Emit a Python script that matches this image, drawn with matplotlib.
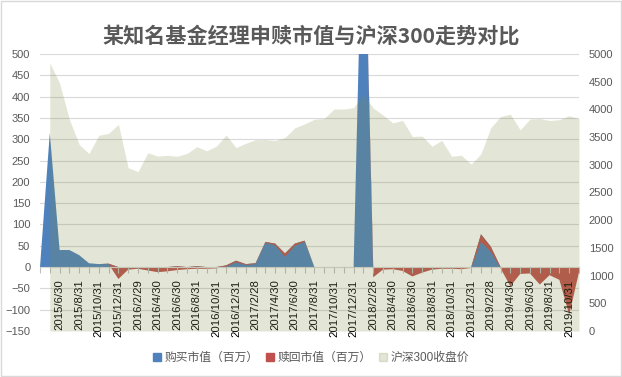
import numpy as np
import pandas as pd
import matplotlib
matplotlib.use('Agg')
import matplotlib.pyplot as plt
from matplotlib.patches import Patch, Rectangle

plt.rcParams['font.family'] = ['Liberation Sans', 'Noto Sans CJK SC']

# 月末日期 (第一行为空)
dates = [''] + [f'{d.year}/{d.month}/{d.day}'
                 for d in pd.date_range('2015-05-31', '2019-11-30', freq='ME')]

# 购买市值（百万）
buy = np.array([0, 315, 40, 40, 28, 9, 7, 8, 0, 0,
                0, 0, 0, 0, 2, 0, 2, 0, 0, 4,
                15, 7, 9, 59, 55, 32, 55, 62, 0, 0,
                0, 0, 0, 950, 0, 0, 0, 0, 0, 0,
                0, 0, 0, 0, 0, 77, 48, 0, 0, 0,
                0, 0, 0, 0, 0, 0], dtype=float)

# 赎回市值（百万）
redeem = np.array([0, 0, 0, 0, 0, 0, 0, -1, -28, -6,
                   -4, -8, -12, -10, -9, -5, -6, -4, -3, -3,
                   -4, -2, -2, -2, -4, -8, -5, -3, 0, -1,
                   -2, -1, 0, 0, -24, -6, -5, -9, -22, -13,
                   -6, -4, -4, -5, -2, -18, -12, -3, -45, -16,
                   -15, -41, -19, -30, -112, -12], dtype=float)

# 沪深300收盘价
csi300 = np.array([np.nan, 4841, 4473, 3817, 3367, 3203, 3534, 3566, 3731, 2946,
                   2877, 3218, 3157, 3170, 3154, 3204, 3328, 3253, 3336, 3538,
                   3310, 3388, 3453, 3456, 3440, 3493, 3667, 3738, 3822, 3837,
                   4007, 4006, 4031, 4276, 4024, 3899, 3757, 3802, 3511, 3518,
                   3335, 3439, 3154, 3173, 3011, 3202, 3669, 3872, 3913, 3630,
                   3826, 3835, 3800, 3815, 3887, 3829])

x = np.arange(len(dates))

fig = plt.figure(figsize=(6.22, 3.77), dpi=100)
ax = fig.add_axes([40 / 622, 46 / 377, 539 / 622, 277 / 377])

# 堆积面积图: 赎回叠在购买之上
ax.fill_between(x, 0, buy, color='#4F81BD', lw=0, zorder=2)
ax.fill_between(x, buy, buy + redeem, color='#C0504D', lw=0, zorder=3)

ax.set_xlim(0, len(dates) - 1)
ax.set_ylim(-150, 500)
ax.set_yticks(range(-150, 501, 50))
ax.grid(axis='y', color='#D9D9D9', lw=0.8)
ax.set_axisbelow(True)
ax.xaxis.set_zorder(5)  # 日期标签画在面积之上
for s in ['top', 'right', 'left']:
    ax.spines[s].set_visible(False)
ax.spines['bottom'].set_position(('data', 0))
ax.spines['bottom'].set_color('#D9D9D9')
ax.spines['bottom'].set_zorder(4)

ax.set_xticks(x)
ax.set_xticklabels([d if i % 2 == 0 else '' for i, d in enumerate(dates)],
                   rotation=90, fontsize=8.2, color='black')
ax.tick_params(axis='x', length=4, color='#BFBFBF', pad=5)
ax.tick_params(axis='y', length=0, labelsize=8, labelcolor='#595959', pad=7)

# 沪深300 (次坐标轴)
ax2 = ax.twinx()
ax2.fill_between(x, 0, csi300, color='#808D45', alpha=0.22, lw=0)
ax2.set_ylim(0, 5000)
ax2.set_yticks(range(0, 5001, 500))
for s in ax2.spines.values():
    s.set_visible(False)
ax2.tick_params(axis='y', length=0, labelsize=8, labelcolor='#595959', pad=7)

fig.text(0.5, 1 - 36 / 377, '某知名基金经理申赎市值与沪深300走势对比',
         ha='center', va='center', fontsize=15.2, fontweight='bold',
         color='#595959', family='Noto Sans CJK SC')

handles = [Patch(color='#4F81BD'), Patch(color='#C0504D'),
           Patch(color='#808D45', alpha=0.22)]
fig.legend(handles, ['购买市值（百万）', '赎回市值（百万）', '沪深300收盘价'],
           loc='center', bbox_to_anchor=(0.5, 1 - 358 / 377), ncol=3,
           frameon=False, fontsize=8.5, handlelength=0.7, handleheight=0.7,
           handletextpad=0.3, columnspacing=0.6, labelcolor='#595959')

fig.add_artist(Rectangle((0.001, 0.002), 0.997, 0.995, transform=fig.transFigure,
                         fill=False, ec='#D9D9D9', lw=1))

fig.savefig('out.png', dpi=100)
